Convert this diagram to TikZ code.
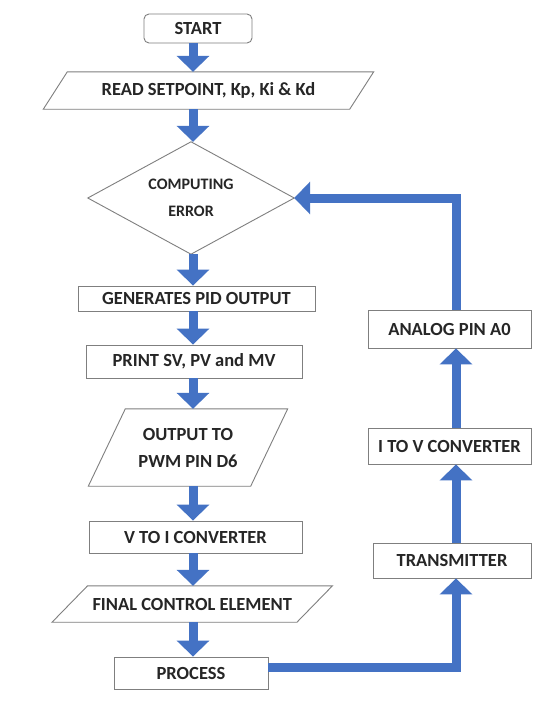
\documentclass[tikz,border=0pt]{standalone}
\usepackage{fontspec}
\setmainfont{Carlito}
\usetikzlibrary{arrows.meta}
\definecolor{flowblue}{HTML}{4472C4}
\definecolor{edgegray}{HTML}{7F7F7F}
\definecolor{txt}{HTML}{262626}
\begin{document}
\begin{tikzpicture}[x=1pt,y=-1pt,
  lbl/.style={inner sep=0pt, text=txt, align=center, font=\fontsize{18.5}{27}\selectfont\bfseries},
  box/.style={lbl, draw=edgegray, line width=0.9pt, fill=white},
  outline/.style={draw=edgegray, line width=0.9pt},
  flow/.style={draw=flowblue, line width=9pt, line join=miter, -{Triangle[width=32pt,length=16pt]}}
]
\useasboundingbox[fill=white] (0,0) rectangle (534,704);
\coordinate (mx) at (193,0);
\coordinate (rx) at (456,0);
\coordinate (pl) at (0,667);

% main column
\node[box, rounded corners=5pt, minimum width=108pt, minimum height=29pt] (start) at (198,28.5) {START};

\node[lbl, minimum width=306pt, minimum height=37pt] (read) at (208.5,90.5) {READ SETPOINT, Kp, Ki \& Kd};
\draw[outline] ([xshift=12pt]read.north west) -- ([xshift=12pt]read.north east) -- ([xshift=-12pt]read.south east) -- ([xshift=-12pt]read.south west) -- cycle;

\node[lbl, font=\fontsize{16}{27}\selectfont\bfseries, minimum width=206pt, minimum height=112pt] (dia) at (191,198) {COMPUTING\\ERROR};
\draw[outline] (dia.north) -- (dia.east) -- (dia.south) -- (dia.west) -- cycle;

\node[box, minimum width=237pt, minimum height=25pt] (gen) at (196.5,298.5) {GENERATES PID OUTPUT};
\node[box, minimum width=216pt, minimum height=33pt] (print) at (194,361.5) {PRINT SV, PV and MV};

\node[lbl, minimum width=162pt, minimum height=77pt] (out) at (188,447.5) {OUTPUT TO\\PWM PIN D6};
\draw[outline] ([xshift=18.5pt]out.north west) -- ([xshift=18.5pt]out.north east) -- ([xshift=-18.5pt]out.south east) -- ([xshift=-18.5pt]out.south west) -- cycle;

\node[box, minimum width=213pt, minimum height=32pt] (vtoi) at (195.5,537) {V TO I CONVERTER};

\node[lbl, minimum width=244.5pt, minimum height=36pt] (final) at (192.25,604) {FINAL CONTROL ELEMENT};
\draw[outline] ([xshift=17.75pt]final.north west) -- ([xshift=17.75pt]final.north east) -- ([xshift=-17.75pt]final.south east) -- ([xshift=-17.75pt]final.south west) -- cycle;

\node[box, minimum width=154pt, minimum height=32pt] (proc) at (191,673) {PROCESS};

% right column
\node[box, minimum width=163pt, minimum height=38pt] (analog) at (449.5,329) {ANALOG PIN A0};
\node[box, minimum width=163pt, minimum height=36pt] (itov) at (449.5,446) {I TO V CONVERTER};
\node[box, minimum width=158pt, minimum height=35pt] (trans) at (452,560.5) {TRANSMITTER};

% connectors
\draw[flow] (start.south -| mx) -- (read.north -| mx);
\draw[flow] (read.south -| mx) -- (dia.north -| mx);
\draw[flow] (dia.south -| mx) -- (gen.north -| mx);
\draw[flow] (gen.south -| mx) -- (print.north -| mx);
\draw[flow] (print.south -| mx) -- (out.north -| mx);
\draw[flow] (out.south -| mx) -- (vtoi.north -| mx);
\draw[flow] (vtoi.south -| mx) -- (final.north -| mx);
\draw[flow] (final.south -| mx) -- (proc.north -| mx);

\draw[flow] (proc.east |- pl) -| (trans.south -| rx);
\draw[flow] (trans.north -| rx) -- (itov.south -| rx);
\draw[flow] (itov.north -| rx) -- (analog.south -| rx);
\draw[flow] (analog.north -| rx) |- (dia.east);
\end{tikzpicture}
\end{document}
